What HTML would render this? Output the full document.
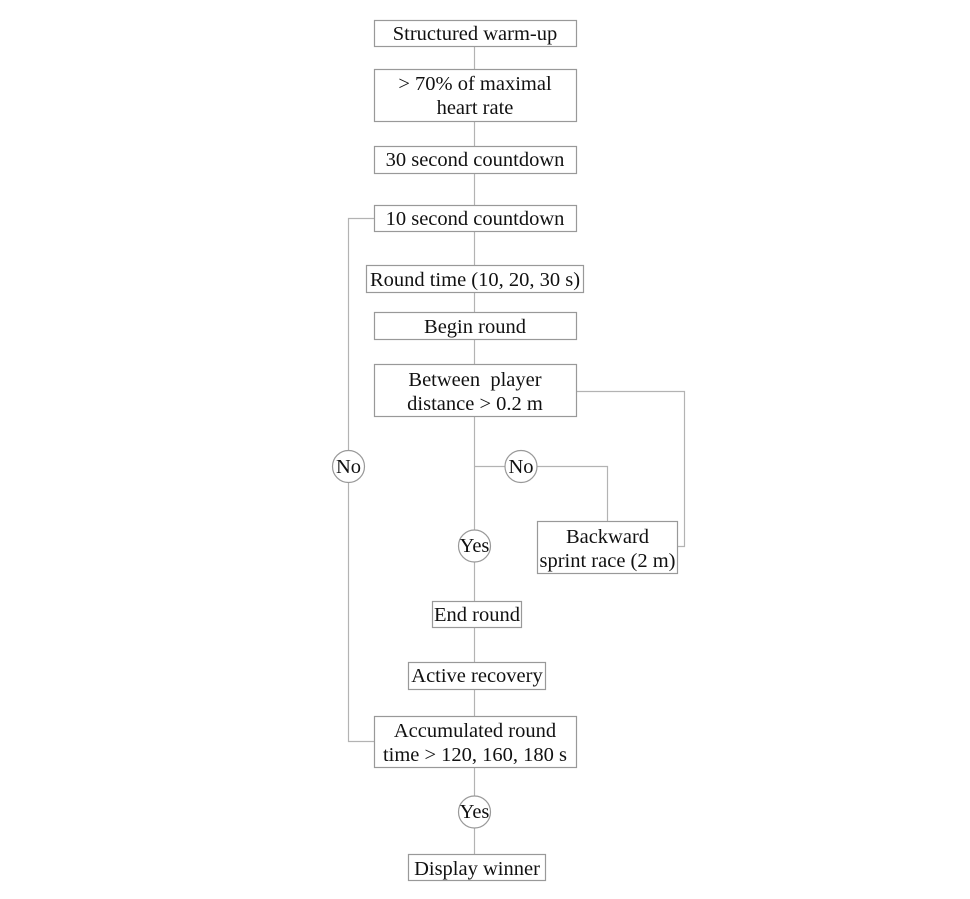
<!DOCTYPE html>
<html><head><meta charset="utf-8"><style>
html,body{margin:0;padding:0;background:#fff;}
svg{display:block;}
text{font-family:"Liberation Serif",serif;font-size:20.5px;fill:#111;text-anchor:middle;white-space:pre;}
</style></head><body>
<svg width="970" height="899" viewBox="0 0 970 899" xmlns="http://www.w3.org/2000/svg">
<g stroke="#b3b3b3" stroke-width="1.2" fill="none">
<line x1="474.5" y1="46" x2="474.5" y2="69"/>
<line x1="474.5" y1="121" x2="474.5" y2="146"/>
<line x1="474.5" y1="173" x2="474.5" y2="205"/>
<line x1="474.5" y1="231" x2="474.5" y2="265"/>
<line x1="474.5" y1="292" x2="474.5" y2="312"/>
<line x1="474.5" y1="339" x2="474.5" y2="364"/>
<line x1="474.5" y1="416" x2="474.5" y2="530"/>
<line x1="474.5" y1="562" x2="474.5" y2="601"/>
<line x1="474.5" y1="627" x2="474.5" y2="662"/>
<line x1="474.5" y1="689" x2="474.5" y2="716"/>
<line x1="474.5" y1="767" x2="474.5" y2="796"/>
<line x1="474.5" y1="828" x2="474.5" y2="854"/>
<polyline points="374,218.5 348.5,218.5 348.5,450"/>
<polyline points="348.5,482 348.5,741.5 374,741.5"/>
<line x1="474.5" y1="466.5" x2="505" y2="466.5"/>
<polyline points="537,466.5 607.5,466.5 607.5,521"/>
<polyline points="677,546.5 684.5,546.5 684.5,391.5 576,391.5"/>
</g>
<g stroke="#999" stroke-width="1.2" fill="#fff">
<rect x="374.5" y="20.5" width="202" height="26"/>
<rect x="374.5" y="69.5" width="202" height="52"/>
<rect x="374.5" y="146.5" width="202" height="27"/>
<rect x="374.5" y="205.5" width="202" height="26"/>
<rect x="366.5" y="265.5" width="217" height="27"/>
<rect x="374.5" y="312.5" width="202" height="27"/>
<rect x="374.5" y="364.5" width="202" height="52"/>
<rect x="537.5" y="521.5" width="140" height="52"/>
<rect x="432.5" y="601.5" width="89" height="26"/>
<rect x="408.5" y="662.5" width="137" height="27"/>
<rect x="374.5" y="716.5" width="202" height="51"/>
<rect x="408.5" y="854.5" width="137" height="26"/>
<circle cx="348.5" cy="466.5" r="16"/>
<circle cx="521" cy="466.5" r="16"/>
<circle cx="474.5" cy="546" r="16"/>
<circle cx="474.5" cy="812" r="16"/>
</g>
<text x="475" y="40">Structured warm-up</text>
<text x="475" y="90">&gt; 70% of maximal</text>
<text x="475" y="114">heart rate</text>
<text x="475" y="166">30 second countdown</text>
<text x="475" y="225">10 second countdown</text>
<text x="475" y="286">Round time (10, 20, 30 s)</text>
<text x="475" y="333">Begin round</text>
<text x="475" y="386">Between  player</text>
<text x="475" y="410">distance &gt; 0.2 m</text>
<text x="348.5" y="473">No</text>
<text x="521" y="473">No</text>
<text x="474.5" y="552">Yes</text>
<text x="607.5" y="543">Backward</text>
<text x="607.5" y="567">sprint race (2 m)</text>
<text x="477" y="621">End round</text>
<text x="477" y="682">Active recovery</text>
<text x="475" y="737">Accumulated round</text>
<text x="475" y="761">time &gt; 120, 160, 180 s</text>
<text x="474.5" y="818">Yes</text>
<text x="477" y="875">Display winner</text>
</svg>
</body></html>
